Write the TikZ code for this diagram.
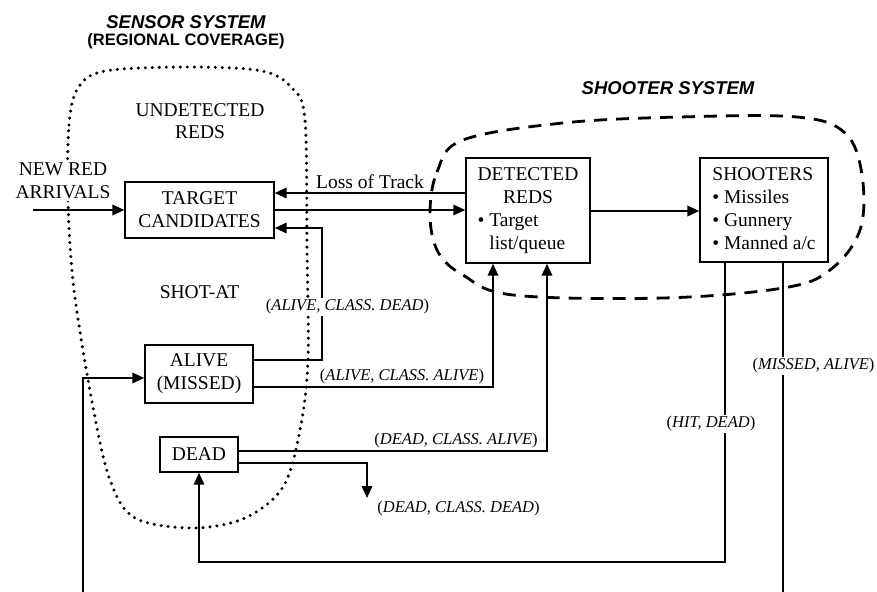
\documentclass[tikz,border=0pt]{standalone}
\usepackage{fontspec}
\setmainfont{Liberation Serif}
\newfontfamily\titlefont{Liberation Sans}
\usetikzlibrary{arrows.meta}
\begin{document}
\begin{tikzpicture}[x=1pt,y=-1pt,
  box/.style={draw, line width=1.4pt, inner sep=0pt, font=\fontsize{19.5}{23}\selectfont, align=center},
  txt/.style={font=\fontsize{19.5}{22.5}\selectfont, align=center, inner sep=0pt},
  conn/.style={line width=1.9pt},
  arr/.style={conn, -{Triangle[length=12pt,width=10.5pt]}},
  lab/.style={font=\fontsize{16.5}{19}\selectfont, inner sep=1.5pt},
  wlab/.style={lab, fill=white},
  bigtitle/.style={font=\titlefont\bfseries\itshape\fontsize{18.5}{22}\selectfont, inner sep=0pt},
  subtitle/.style={font=\titlefont\bfseries\fontsize{16.5}{20}\selectfont, inner sep=0pt},
  sensorline/.style={line width=3.4pt, line cap=round, dash pattern=on 0pt off 7pt},
  shooterline/.style={line width=2.8pt, dash pattern=on 13pt off 9pt}
]
\useasboundingbox (0,0) rectangle (877,591);
\clip (0,0) rectangle (877,591);

% titles
\node[bigtitle] (sensT) at (186,22) {SENSOR SYSTEM};
\node[subtitle] (sensS) at (186,41) {(REGIONAL COVERAGE)};
\node[bigtitle] (shootT) at (668,88) {SHOOTER SYSTEM};

% sensor region (dotted)
\draw[sensorline] plot[smooth cycle, tension=0.55] coordinates {
  (68,200) (69,125) (78,88) (105,71) (190,67) (262,71) (292,88) (305,120)
  (307,250) (308,360) (300,430) (283,487) (245,518) (193,528) (135,518)
  (110,480) (93,407) (74,290)};

% shooter region (dashed)
\draw[shooterline] plot[smooth cycle, tension=0.6] coordinates {
  (430,215) (437,172) (463,140) (563,123) (680,117) (797,117) (845,133)
  (862,175) (860,230) (830,270) (783,288) (663,298) (513,295) (463,275) (438,252)};

% free text
\node[txt] (undet) at (200,121) {UNDETECTED\\REDS};
\node[txt, fill=white, inner ysep=2pt] (newred) at (63,181) {NEW RED\\ARRIVALS};
\node[txt] (shotat) at (199.5,292) {SHOT-AT};

% boxes
\node[box, fill=white, minimum width=149pt, minimum height=56pt] (tgt) at (199.5,210) {TARGET\\CANDIDATES};
\node[box, fill=white, minimum width=124pt, minimum height=105pt] (det) at (528,210.5)
  {\begin{tabular}{@{}l@{}}\multicolumn{1}{@{}c@{}}{DETECTED}\\\multicolumn{1}{@{}c@{}}{REDS}\\• Target\\\phantom{• }list/queue\end{tabular}};
\node[box, fill=white, minimum width=128pt, minimum height=104pt] (sh) at (764,210)
  {\begin{tabular}{@{}l@{}}SHOOTERS\\• Missiles\\• Gunnery\\• Manned a/c\end{tabular}};
\node[box, fill=white, minimum width=108pt, minimum height=58pt] (alive) at (199,374) {ALIVE\\(MISSED)};
\node[box, fill=white, minimum width=78pt, minimum height=35pt] (dead) at (199,454.5) {DEAD};

% connectors
\coordinate (newin) at (33,210);
\draw[arr] (newin) -- (tgt.west |- newin);
\draw[arr] (det.west |- 0,193) -- (tgt.east |- 0,193);
\node[txt, anchor=south] (loss) at (370,189) {Loss of Track};
\draw[arr] (tgt.east |- 0,210) -- (det.west |- 0,210);
\draw[arr] (det.east |- 0,211) -- (sh.west |- 0,211);

\draw[arr] (alive.east |- 0,360) -- (322,360) -- (322,228) -- (tgt.east |- 0,228);
\draw[arr] (alive.east |- 0,387) -- (493,387) -- (det.south -| 493,0);
\draw[arr] (dead.east |- 0,451) -- (547,451) -- (det.south -| 547,0);
\coordinate (deadout) at (367,498);
\draw[arr] (dead.east |- 0,463) -- (367,463) -- (deadout);
\draw[arr] (sh.south -| 725,0) -- (725,562) -| (dead.south);
\draw[arr] (sh.south -| 783,0) -- (783,640) -- (83,640) -- (83,378) -- (alive.west |- 0,378);

% connector labels
\node[wlab] (l1) at (347.5,307) {({\itshape ALIVE, CLASS. DEAD})};
\node[lab, anchor=south] (l2) at (402,386) {({\itshape ALIVE, CLASS. ALIVE})};
\node[lab, anchor=south] (l3) at (456,450) {({\itshape DEAD, CLASS. ALIVE})};
\node[lab] (l4) at (458.5,509) {({\itshape DEAD, CLASS. DEAD})};
\node[wlab] (l5) at (711,424) {({\itshape HIT, DEAD})};
\node[wlab] (l6) at (813.5,366) {({\itshape MISSED, ALIVE})};
\end{tikzpicture}
\end{document}
